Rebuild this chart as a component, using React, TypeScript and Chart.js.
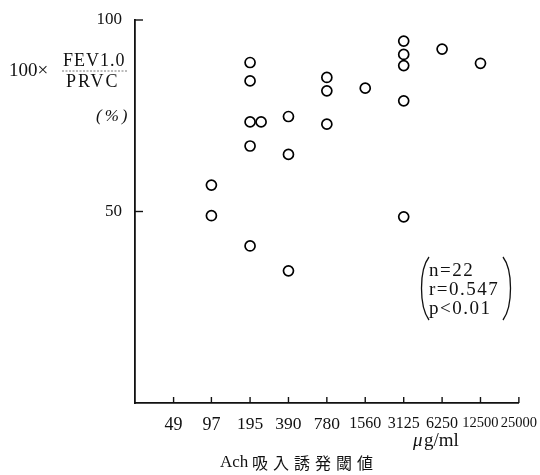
import React, { useEffect, useRef } from "react";
import { Chart, registerables } from "chart.js";

Chart.register(...registerables);

const xTickValues = [49, 97, 195, 390, 780, 1560, 3125, 6250, 12500, 25000];
const xTickLabels = ["49", "97", "195", "390", "780", "1560", "3125", "6250", "12500", "25000"];
const yTickValues = [50, 100];

const pointX = [195, 195, 195, 238, 195, 390, 390, 780, 780, 780, 1560, 3125, 3125, 3125, 3125, 6250, 12500, 97, 97, 195, 3125, 390];
const pointY = [88.9, 84.1, 73.4, 73.4, 67.1, 74.8, 64.9, 85.0, 81.5, 72.8, 82.2, 94.5, 91.0, 88.1, 78.9, 92.4, 88.7, 56.9, 48.9, 41.0, 48.6, 34.5];

const statLines = ["n=22", "r=0.547", "p<0.01"];
const xTitleLatin = "Ach";
const xTitleCJK = "吸入誘発閾値";
const xUnit = "μg/ml";

const SERIF = "'Liberation Serif', 'DejaVu Serif', serif";
const CJK = "'Noto Sans CJK JP', 'Noto Sans CJK SC', sans-serif";

const decorPlugin = {
  id: "decor",
  afterDraw(chart: any) {
    const ctx = chart.ctx as any;
    const xs = chart.scales.x;
    const ys = chart.scales.y;
    const left = chart.chartArea.left;
    const bottom = chart.chartArea.bottom;
    ctx.save();
    ctx.strokeStyle = "#111";
    ctx.lineWidth = 1.4;
    for (const v of xTickValues) {
      const px = xs.getPixelForValue(v);
      ctx.beginPath();
      ctx.moveTo(px, bottom);
      ctx.lineTo(px, bottom - 6);
      ctx.stroke();
    }
    for (const v of yTickValues) {
      const py = ys.getPixelForValue(v);
      ctx.beginPath();
      ctx.moveTo(left, py);
      ctx.lineTo(left + 8, py);
      ctx.stroke();
    }
    ctx.fillStyle = "#111";
    ctx.textBaseline = "middle";
    // y title
    ctx.font = `19px ${SERIF}`;
    ctx.textAlign = "left";
    ctx.letterSpacing = "0px";
    ctx.fillText("100×", 9, 71);
    ctx.textAlign = "left";
    ctx.font = `18px ${SERIF}`;
    ctx.letterSpacing = "1px";
    ctx.fillText("FEV1.0", 63, 61);
    ctx.letterSpacing = "2px";
    ctx.fillText("PRVC", 66, 82);
    ctx.strokeStyle = "#777";
    ctx.lineWidth = 1;
    ctx.setLineDash([2, 1.5]);
    ctx.beginPath();
    ctx.moveTo(62, 71);
    ctx.lineTo(128, 71);
    ctx.stroke();
    ctx.setLineDash([]);
    ctx.font = `italic 17px ${SERIF}`;
    ctx.letterSpacing = "3px";
    ctx.fillText("(%)", 96, 117);
    // x unit & title
    ctx.font = `italic 19px ${SERIF}`;
    ctx.letterSpacing = "0px";
    ctx.fillText("μ", 413, 441);
    ctx.font = `19px ${SERIF}`;
    ctx.fillText(xUnit.slice(1), 424, 441);
    ctx.font = `17px ${SERIF}`;
    ctx.fillText(xTitleLatin, 220, 463);
    ctx.font = `16px ${CJK}`;
    ctx.letterSpacing = "5px";
    ctx.fillText(xTitleCJK, 252, 463);
    // stats box
    ctx.font = `19px ${SERIF}`;
    ctx.letterSpacing = "1.5px";
    statLines.forEach((s, i) => ctx.fillText(s, 429, 271 + i * 19));
    ctx.letterSpacing = "0px";
    ctx.strokeStyle = "#111";
    ctx.lineWidth = 1.3;
    ctx.beginPath();
    ctx.moveTo(429, 257);
    ctx.bezierCurveTo(419, 270, 419, 306, 429, 320);
    ctx.stroke();
    ctx.beginPath();
    ctx.moveTo(503, 257);
    ctx.bezierCurveTo(513, 270, 513, 306, 503, 320);
    ctx.stroke();
    ctx.restore();
  },
};

const xFontSizes = [18, 18, 17.5, 17.5, 17.5, 16, 16, 16, 14.5, 14.5];

export default function App() {
  const ref = useRef<HTMLCanvasElement | null>(null);
  useEffect(() => {
    if (!ref.current) return;
    const data = pointX.map((x, i) => ({ x, y: pointY[i] }));
    const chart = new Chart(ref.current, {
      type: "scatter",
      data: {
        datasets: [
          {
            data,
            pointRadius: 5,
            pointBorderWidth: 1.7,
            pointBorderColor: "#000",
            pointBackgroundColor: "#fff",
          },
        ],
      },
      options: {
        animation: false,
        responsive: false,
        maintainAspectRatio: false,
        layout: { padding: { left: 0, top: 20, right: 0, bottom: 0 } },
        plugins: { legend: { display: false }, tooltip: { enabled: false } },
        scales: {
          x: {
            type: "logarithmic",
            min: 25000 / 1024,
            max: 25000,
            grid: { display: false },
            border: { display: true, color: "#111", width: 1.8 },
            afterBuildTicks: (s: any) => {
              s.ticks = xTickValues.map((v) => ({ value: v }));
            },
            afterFit: (s: any) => {
              s.height = 72;
            },
            ticks: {
              autoSkip: false,
              maxRotation: 0,
              padding: 3,
              color: "#111",
              font: (c: any) => ({ family: SERIF, size: xFontSizes[c.index] ?? 16 }),
              callback: (v: any) => {
                const i = xTickValues.indexOf(Number(v));
                return i >= 0 ? xTickLabels[i] : "";
              },
            },
          },
          y: {
            type: "linear",
            min: 0,
            max: 100,
            grid: { display: false },
            border: { display: true, color: "#111", width: 1.8 },
            afterBuildTicks: (s: any) => {
              s.ticks = yTickValues.map((v) => ({ value: v }));
            },
            afterFit: (s: any) => {
              s.width = 135;
            },
            ticks: {
              padding: 5,
              color: "#111",
              font: { family: SERIF, size: 17 },
              callback: (v: any) => String(v),
            },
          },
        },
      },
      plugins: [decorPlugin],
    });
    return () => chart.destroy();
  }, []);
  return (
    <div style={{ position: "absolute", left: 0, top: 0, width: 540, height: 475, background: "#fff" }}>
      <canvas ref={ref} width={540} height={475} style={{ width: 540, height: 475 }} />
    </div>
  );
}
